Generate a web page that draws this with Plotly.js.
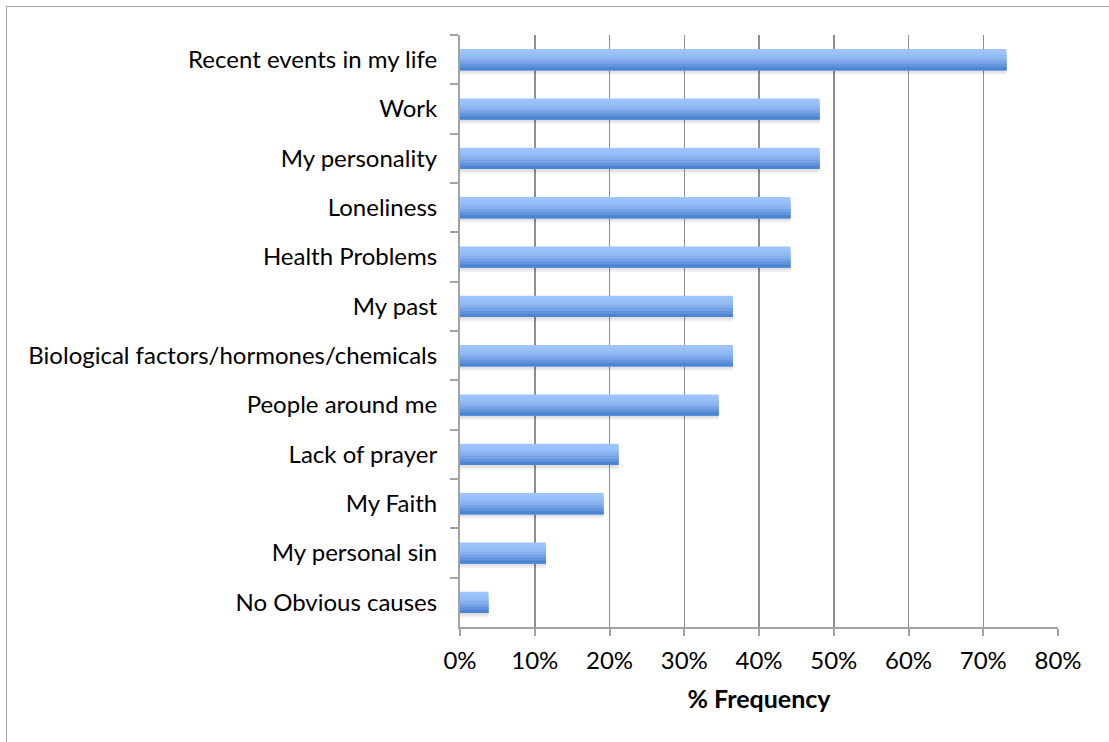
<!DOCTYPE html>
<html>
<head>
<meta charset="utf-8">
<script src="https://cdn.plot.ly/plotly-3.0.1.min.js"></script>
<style>
  html, body { margin: 0; padding: 0; overflow: hidden; background: #fff; }
  #chart { width: 1109px; height: 742px; }
  #frame { position: absolute; left: 6px; top: 6px; width: 1200px; height: 800px;
           border-left: 1.5px solid #a3a3a3; border-top: 1.5px solid #a3a3a3; pointer-events: none; }
</style>
</head>
<body>
<div id="chart"></div>
<div id="frame"></div>
<script>
// Data
const categories = [
  "Recent events in my life",
  "Work",
  "My personality",
  "Loneliness",
  "Health Problems",
  "My past",
  "Biological factors/hormones/chemicals",
  "People around me",
  "Lack of prayer",
  "My Faith",
  "My personal sin",
  "No Obvious causes"
];
const frequencyPct = [73.1, 48.1, 48.1, 44.2, 44.2, 36.5, 36.5, 34.6, 21.2, 19.2, 11.5, 3.8];
const xTickVals = [0, 10, 20, 30, 40, 50, 60, 70, 80];
const xTickLabels = ["0%", "10%", "20%", "30%", "40%", "50%", "60%", "70%", "80%"];
const xAxisTitle = "% Frequency";

// Styling
const FONT = "Lato, 'Open Sans', sans-serif";
const barThickness = 0.43;
const bandColors = ["#9ec4fd", "#99c0fa", "#92baf5", "#86b0ef", "#75a2e6", "#6193dd", "#4c83d2"];
const bandW = barThickness / bandColors.length;

const traces = [];
// soft shadow under each bar
[[0.05, "rgba(0,0,0,0.07)"], [0.09, "rgba(0,0,0,0.05)"]].forEach(([dy, col]) => {
  traces.push({
    type: "bar", orientation: "h",
    x: frequencyPct, y: categories,
    width: barThickness, offset: -barThickness / 2 + dy,
    marker: { color: col, line: { width: 0 } },
    hoverinfo: "skip", showlegend: false
  });
});
// gradient: nested layers, each running from its start down to the bar's bottom edge
bandColors.forEach((col, i) => {
  traces.push({
    type: "bar", orientation: "h",
    x: frequencyPct, y: categories,
    width: barThickness - i * bandW, offset: -barThickness / 2 + i * bandW,
    marker: { color: col, line: { width: 0 } },
    hoverinfo: "skip", showlegend: false
  });
});

const layout = {
  width: 1109, height: 742,
  paper_bgcolor: "#ffffff", plot_bgcolor: "#ffffff",
  margin: { l: 460, r: 51, t: 35, b: 115, pad: 0 },
  barmode: "overlay",
  showlegend: false,
  hovermode: false,
  font: { family: FONT, color: "#000", size: 24 },
  xaxis: {
    range: [0, 80],
    tickmode: "array", tickvals: xTickVals, ticktext: xTickLabels,
    showgrid: true, gridcolor: "#8e8e8e", gridwidth: 1.5,
    zeroline: false,
    showline: true, linecolor: "#a3a3a3", linewidth: 2,
    ticks: "outside", ticklen: 7, tickcolor: "#a3a3a3", tickwidth: 2,
    ticklabelstandoff: 4,
    tickfont: { family: FONT, size: 24, color: "#000" },
    title: { text: "<b>" + xAxisTitle + "</b>", font: { family: FONT, size: 25, color: "#000" }, standoff: 18 },
    fixedrange: true
  },
  yaxis: {
    type: "category",
    categoryorder: "array", categoryarray: categories,
    range: [11.5, -0.5],
    showgrid: false, zeroline: false,
    showline: true, linecolor: "#a3a3a3", linewidth: 2,
    ticks: "outside", tickson: "boundaries", ticklen: 8, tickcolor: "#a3a3a3", tickwidth: 2,
    ticklabelstandoff: 16,
    tickfont: { family: FONT, size: 24, color: "#000" },
    fixedrange: true
  }
};

Plotly.newPlot("chart", traces, layout, { displayModeBar: false, staticPlot: true });
</script>
</body>
</html>
